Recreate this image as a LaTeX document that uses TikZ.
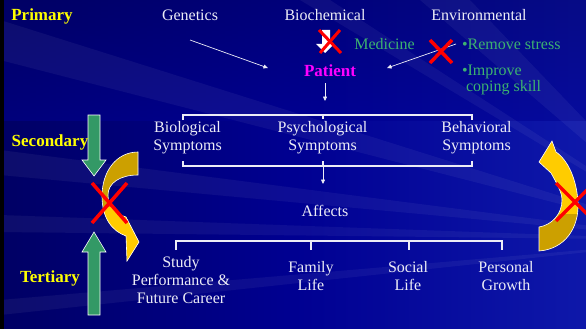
\documentclass[tikz,border=0pt]{standalone}
\usepackage{fontspec}
\setmainfont{Liberation Serif}
\usetikzlibrary{arrows.meta}
\definecolor{bgdark}{RGB}{0,0,100}
\definecolor{bgmid}{RGB}{0,0,145}
\definecolor{bglight}{RGB}{14,24,170}
\definecolor{txt}{RGB}{236,236,246}
\definecolor{lbl}{RGB}{255,255,0}
\definecolor{grn}{RGB}{60,178,112}
\definecolor{garrow}{RGB}{51,153,102}
\definecolor{gold}{RGB}{204,160,0}
\definecolor{yel}{RGB}{255,204,0}
\definecolor{mag}{RGB}{255,0,255}
\newcommand\twol[2]{\begin{tabular}[t]{@{}c@{}}#1\\#2\end{tabular}}
\newcommand\larrowpath{(138,152) .. controls (116,152) and (102,172) .. (102,196) .. controls (102,218) and (112,231) .. (126,236) -- (127,261) -- (139,242) -- (126,217) .. controls (115,214) and (108,205) .. (108,195) .. controls (108,183) and (120,175) .. (138,175) -- cycle}
\newcommand\rarrowpath{(539,251) .. controls (565,249) and (579,228) .. (578,203) .. controls (577,180) and (568,160) .. (556,152) -- (552,141) -- (539,162) -- (551,173) .. controls (556,182) and (562,192) .. (562,200) .. controls (562,214) and (552,225) .. (539,227) -- cycle}
\begin{document}
\begin{tikzpicture}[x=1pt,y=-1pt,
  every node/.style={inner sep=0pt, outer sep=0pt, font=\fontsize{16}{18}\selectfont, text=txt},
  lab/.style={font=\fontsize{17}{20}\selectfont\bfseries, text=lbl, anchor=base},
  tx/.style={anchor=base},
  gtx/.style={anchor=base west, text=grn},
  thinarr/.style={draw=txt, line width=0.7pt, -{Triangle[length=4.5pt,width=4pt]}},
  brk/.style={draw=txt, line width=1.2pt},
  cross/.style={draw=red, line width=3.5pt},
  gblock/.style={fill=garrow, draw=white, line width=0.6pt},
  yarrow/.style={draw=white, line width=0.6pt},
  ray/.style={fill=white, opacity=0.05}
]
\useasboundingbox (0,0) rectangle (586,329);
\clip (0,0) rectangle (586,329);
% background
\shade[left color=bgdark, right color=bglight, middle color=bgmid] (0,0) rectangle (586,329);
\shade[top color=bgdark, bottom color=bgmid, opacity=0.5] (0,0) rectangle (586,120);
\fill[ray] (0,20) -- (700,240) -- (0,60) -- cycle;
\fill[ray] (0,150) -- (700,240) -- (0,175) -- cycle;
\fill[ray] (0,215) -- (700,240) -- (0,232) -- cycle;
\fill[ray] (420,0) -- (700,240) -- (470,0) -- cycle;
\fill[ray] (300,0) -- (700,240) -- (330,0) -- cycle;
\fill[ray] (0,300) -- (700,240) -- (0,315) -- cycle;
\fill[black] (0,0) rectangle (4,329);

% green block arrows
\draw[gblock] (88,115) -- (100,115) -- (100,160) -- (106,160) -- (94,176) -- (82,160) -- (88,160) -- cycle;
\draw[gblock] (88,315) -- (100,315) -- (100,252) -- (106,252) -- (94,232) -- (82,252) -- (88,252) -- cycle;

% yellow curved arrows
\fill[gold] \larrowpath;
\begin{scope}
  \clip \larrowpath;
  \fill[yel] (90,207) rectangle (150,270);
\end{scope}
\draw[yarrow] \larrowpath;
\fill[yel] \rarrowpath;
\begin{scope}
  \clip \rarrowpath;
  \fill[gold] (530,214) rectangle (590,260);
\end{scope}
\draw[yarrow] \rarrowpath;

% white icon under the medicine cross
\fill[white] (322,30) -- (330,30) -- (330,44) -- (334,44) -- (325,53) -- (316,44) -- (322,44) -- cycle;

% labels
\node[lab] (prim) at (42,21) {Primary};
\node[lab] (sec) at (50,146) {Secondary};
\node[lab] (ter) at (50,282) {Tertiary};

% top row
\node[tx] (gen) at (190,21) {Genetics};
\node[tx] (bio) at (325,21) {Biochemical};
\node[tx] (env) at (479,21) {Environmental};
\node[tx, text=grn] (med) at (384.5,49) {Medicine};
\node[gtx] (rs) at (462,49) {•Remove stress};
\node[gtx] (imp) at (462,75) {•Improve};
\node[gtx] (cop) at (466,92) {coping skill};
\node[lab, text=mag] (pat) at (330,77) {Patient};

\coordinate (g1) at (190,40); \coordinate (g2) at (268,68);
\draw[thinarr] (g1) -- (g2);
\coordinate (e1) at (456,44); \coordinate (e2) at (387,68);
\draw[thinarr] (e1) -- (e2);
\coordinate (p1) at (325,83); \coordinate (p2) at (325,101);
\draw[thinarr] (p1) -- (p2);

% symptoms
\node[tx] (bs) at (187.5,132) {\twol{Biological}{Symptoms}};
\node[tx] (ps) at (322.5,132) {\twol{Psychological}{Symptoms}};
\node[tx] (bh) at (476.5,132) {\twol{Behavioral}{Symptoms}};
\draw[brk] (183,120) -- (183,115) -- (472,115) -- (472,120);
\draw[brk] (323,115) -- (323,119);
\draw[brk] (183,161) -- (183,166) -- (472,166) -- (472,161);
\draw[brk] (323,161) -- (323,166);
\coordinate (s1) at (323,166); \coordinate (s2) at (323,184);
\draw[thinarr] (s1) -- (s2);

% affects
\node[tx] (aff) at (325,216) {Affects};
\draw[brk] (176,250) -- (176,241) -- (502,241) -- (502,250);
\draw[brk] (311,241) -- (311,250);
\draw[brk] (409,241) -- (409,250);
\node[tx] (st) at (181,267) {\begin{tabular}[t]{@{}c@{}}Study\\Performance \&\\Future Career\end{tabular}};
\node[tx] (fam) at (311,272.7) {\twol{Family}{Life}};
\node[tx] (soc) at (408,272.7) {\twol{Social}{Life}};
\node[tx] (per) at (506,272.7) {\twol{Personal}{Growth}};

% red crosses
\draw[cross, line width=3pt] (319,30) -- (341,53);
\draw[cross, line width=3pt] (340,30) -- (320,53);
\draw[cross] (430,40) -- (452,63);
\draw[cross] (452,40) -- (430,63);
\draw[cross] (92,183) -- (127,223);
\draw[cross] (127,183) -- (92,223);
\draw[cross] (556,183) -- (594,221);
\draw[cross] (556,221) -- (594,183);
\end{tikzpicture}
\end{document}
